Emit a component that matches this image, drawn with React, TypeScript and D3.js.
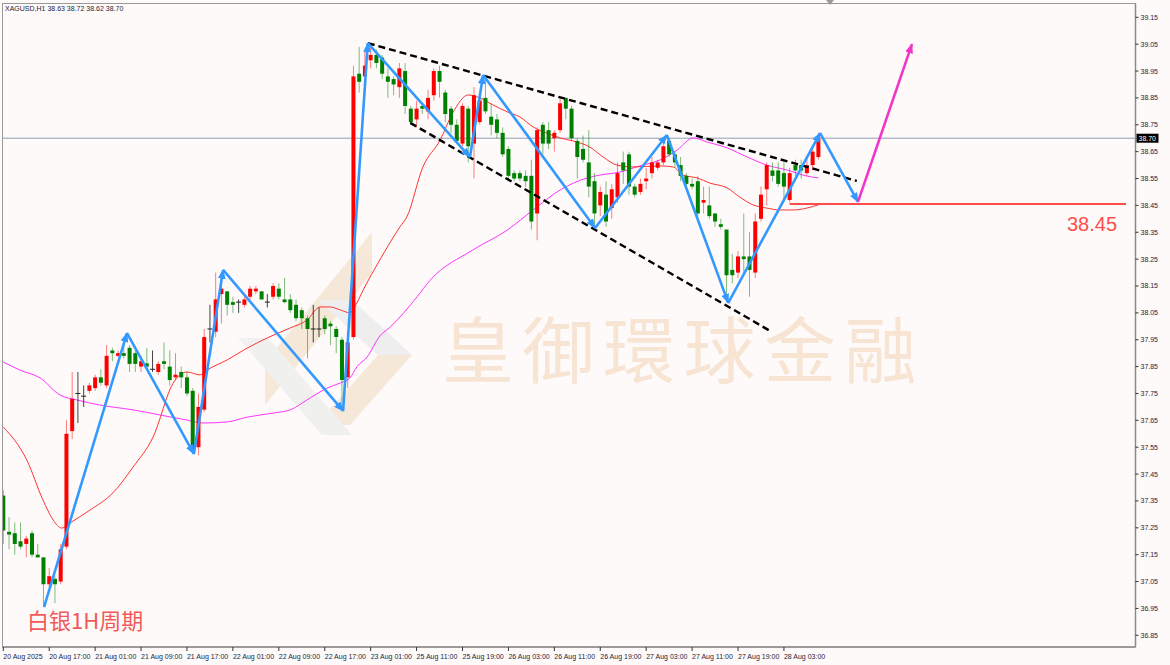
import React from "react";
import * as d3 from "d3";

const W = 1170;
const H = 665;

// ---- candle data (XAGUSD H1) ----
const opens = [37.37,37.235,37.23,37.20,37.19,37.23,37.15,37.14,37.04,37.06,37.05,37.18,37.61,37.75,37.74,37.76,37.77,37.81,37.78,37.91,37.89,37.90,37.92,37.90,37.85,37.862,37.84,37.83,37.87,37.85,37.81,37.83,37.81,37.76,37.55,37.69,37.99,37.98,38.12,38.13,38.09,38.09,38.08,38.11,38.13,38.13,38.09,38.11,38.14,38.10,38.10,38.08,38.06,38.03,37.99,37.99,38.03,38.01,37.99,37.95,37.81,37.96,38.94,38.93,38.99,39.01,39.00,38.93,38.92,38.89,38.95,38.81,38.77,38.82,38.80,38.86,38.95,38.87,38.81,38.75,38.68,38.81,38.68,38.76,38.85,38.78,38.77,38.72,38.66,38.57,38.57,38.56,38.56,38.42,38.75,38.73,38.70,38.73,38.85,38.81,38.69,38.66,38.61,38.54,38.45,38.49,38.44,38.48,38.61,38.64,38.52,38.50,38.54,38.57,38.59,38.61,38.69,38.64,38.60,38.56,38.53,38.54,38.46,38.45,38.42,38.38,38.36,38.21,38.20,38.26,38.26,38.20,38.40,38.51,38.58,38.58,38.57,38.47,38.60,38.60,38.57,38.60,38.63];
const highs = [37.39,37.29,37.27,37.27,37.22,37.24,37.19,37.14,37.10,37.07,37.19,37.65,37.83,37.83,37.78,37.79,37.82,37.84,37.93,37.92,37.91,37.96,37.93,37.91,37.89,37.92,37.91,37.87,37.94,37.91,37.90,37.85,37.83,37.77,37.75,37.99,38.08,38.20,38.20,38.13,38.11,38.10,38.11,38.15,38.15,38.13,38.12,38.16,38.16,38.18,38.12,38.10,38.07,38.04,38.08,38.07,38.04,38.02,38.00,37.96,37.96,38.97,39.04,39.03,39.05,39.03,39.01,38.96,38.93,38.98,38.98,38.82,38.84,38.83,38.88,38.96,38.97,38.88,38.82,38.77,38.83,38.82,38.89,38.87,38.92,38.83,38.79,38.74,38.67,38.58,38.58,38.58,38.62,38.74,38.76,38.76,38.73,38.85,38.85,38.82,38.70,38.71,38.73,38.57,38.52,38.54,38.53,38.61,38.65,38.65,38.53,38.55,38.59,38.63,38.62,38.70,38.70,38.65,38.63,38.57,38.55,38.56,38.52,38.52,38.42,38.40,38.36,38.27,38.28,38.42,38.35,38.42,38.52,38.61,38.61,38.61,38.61,38.59,38.62,38.62,38.63,38.66,38.72];
const lows = [37.19,37.17,37.15,37.17,37.14,37.14,37.14,36.96,37.03,36.97,37.04,37.17,37.58,37.64,37.70,37.75,37.76,37.78,37.77,37.87,37.885,37.88,37.83,37.83,37.83,37.84,37.83,37.82,37.84,37.78,37.80,37.77,37.74,37.53,37.52,37.68,37.94,37.96,38.01,38.04,38.05,38.05,38.07,38.10,38.12,38.10,38.07,38.10,38.10,38.085,38.05,38.02,37.99,37.88,37.94,37.96,37.97,37.93,37.90,37.69,37.77,37.95,38.87,38.90,38.96,38.96,38.92,38.85,38.86,38.85,38.79,38.75,38.74,38.79,38.77,38.84,38.85,38.76,38.72,38.68,38.67,38.61,38.55,38.75,38.79,38.71,38.70,38.63,38.54,38.54,38.54,38.52,38.36,38.32,38.64,38.66,38.65,38.72,38.77,38.69,38.55,38.61,38.48,38.38,38.41,38.37,38.40,38.46,38.53,38.49,38.48,38.49,38.51,38.55,38.58,38.60,38.63,38.59,38.54,38.52,38.51,38.41,38.42,38.40,38.37,38.36,38.09,38.16,38.18,38.19,38.11,38.18,38.39,38.45,38.54,38.52,38.47,38.46,38.56,38.55,38.56,38.58,38.62];
const closes = [37.24,37.225,37.19,37.18,37.21,37.15,37.14,37.04,37.07,37.04,37.17,37.60,37.73,37.75,37.74,37.78,37.81,37.79,37.89,37.90,37.90,37.89,37.86,37.86,37.87,37.85,37.84,37.86,37.86,37.80,37.82,37.81,37.75,37.54,37.70,37.96,37.99,38.10,38.14,38.08,38.08,38.09,38.10,38.14,38.14,38.10,38.09,38.15,38.11,38.09,38.06,38.03,38.03,37.99,37.99,37.99,37.99,38.00,37.96,37.80,37.94,38.93,38.91,38.97,39.01,38.98,38.94,38.91,38.90,38.96,38.82,38.76,38.81,38.81,38.85,38.95,38.91,38.79,38.75,38.69,38.82,38.67,38.86,38.84,38.80,38.75,38.72,38.64,38.56,38.55,38.55,38.54,38.39,38.73,38.68,38.68,38.72,38.83,38.81,38.70,38.63,38.62,38.52,38.42,38.50,38.39,38.51,38.57,38.58,38.52,38.49,38.53,38.55,38.61,38.61,38.67,38.64,38.61,38.56,38.53,38.52,38.42,38.47,38.41,38.39,38.37,38.19,38.19,38.26,38.25,38.21,38.39,38.49,38.60,38.56,38.53,38.52,38.57,38.58,38.58,38.60,38.65,38.70];

// ---- axis labels ----
const timeLabels = ["20 Aug 2025","20 Aug 17:00","21 Aug 01:00","21 Aug 09:00","21 Aug 17:00","22 Aug 01:00","22 Aug 09:00","22 Aug 17:00","23 Aug 01:00","25 Aug 11:00","25 Aug 19:00","26 Aug 03:00","26 Aug 11:00","26 Aug 19:00","27 Aug 03:00","27 Aug 11:00","27 Aug 19:00","28 Aug 03:00"];
const timeLabelBars = [0,8,16,24,32,40,48,56,64,72,80,88,96,104,112,120,128,136];
const priceTicks = [39.15,39.05,38.95,38.85,38.75,38.65,38.55,38.45,38.35,38.25,38.15,38.05,37.95,37.85,37.75,37.65,37.55,37.45,37.35,37.25,37.15,37.05,36.95,36.85];

// ---- moving averages ----
const maRedIdx = [0,4.1,6.9,8.7,10.2,11.6,15.1,19.1,22.6,26.1,29.6,32,34.3,35.5,39,42.5,46,50,52.9,55.2,56.9,58.7,60.4,61.6,62.7,65.6,69.1,70.3,73.1,76.1,78.3,81,83,85.3,87.8,90,92.3,94.7,97,99.2,102.2,104.5,106.9,109.7,114.4,116.7,118.4,120.9,123.1,126.1,128.3,130.6,133,135.3,137.6,140,142];
const maRedVal = [37.625,37.502,37.354,37.279,37.249,37.268,37.316,37.38,37.476,37.588,37.789,37.83,37.819,37.837,37.875,37.919,37.957,37.994,38.023,38.072,38.072,38.061,38.05,38.087,38.135,38.247,38.37,38.407,38.593,38.693,38.794,38.861,38.85,38.824,38.798,38.779,38.742,38.719,38.701,38.69,38.667,38.63,38.6,38.593,38.597,38.593,38.563,38.552,38.533,38.515,38.481,38.452,38.44,38.433,38.433,38.44,38.452];
const maMagIdx = [0,2.9,6.4,9.9,12.8,16.8,22.6,27.3,32,34.8,39,42.5,47,50,52.9,56.4,58.7,60.4,61.6,63.4,65.6,67.4,72.1,74.3,81.8,87.8,92.3,97,101.7,104,107.4,110.9,114.4,117.4,120.2,122.6,126.1,129.6,133,136.5,140,142];
const maMagVal = [37.867,37.837,37.808,37.744,37.726,37.707,37.689,37.67,37.651,37.64,37.644,37.662,37.677,37.689,37.726,37.77,37.789,37.808,37.849,37.886,37.964,37.997,38.11,38.17,38.284,38.358,38.433,38.507,38.552,38.563,38.574,38.597,38.619,38.656,38.701,38.686,38.664,38.63,38.6,38.582,38.559,38.552];

// ---- drawn analysis ----
const zigIdx = [7.1,21.55,33.2,38.3,59.2,63.5,81.3,83.6,103.1,115.6,126.3,142.3,148.9];
const zigVal = [36.955,37.975,37.525,38.21,37.685,39.054,38.63,38.935,38.366,38.712,38.087,38.719,38.463];
const upperIdx = [63.5,148.7];
const upperVal = [39.054,38.541];
const lowerIdx = [70.9,133.9];
const lowerVal = [38.757,37.979];
const targetIdx = [148.9,158.3];
const targetVal = [38.463,39.05];
const supportIdx = [137,195.6];
const supportLevel = 38.455;
const supportLabel = "38.45";
const lastPrice = 38.70;
const headerText = "XAGUSD,H1  38.63 38.72 38.62 38.70";
const titleText = "白银1H周期";
const watermarkText = "皇御環球金融";

const FONT = "'Liberation Sans', Arial, sans-serif";

export default function App() {
  const x = d3.scaleLinear().domain([0, 142]).range([3.3, 818.38]);
  const y = d3.scaleLinear().domain([36.85, 39.15]).range([635.3, 17.3]);
  const plotL = 2.5, plotT = 3.5, plotR = 1135.5, plotB = 647;
  const bw = 4;
  const redC = "#ff0000";
  const greenC = "#008000";

  const lineGen = d3
    .line<[number, number]>()
    .x((d) => x(d[0]))
    .y((d) => y(d[1]))
    .curve(d3.curveMonotoneX);

  const redPts = maRedIdx.map((v, i) => [v, maRedVal[i]] as [number, number]);
  const magPts = maMagIdx.map((v, i) => [v, maMagVal[i]] as [number, number]);

  const candles = opens.map((o, i) => {
    const c = closes[i];
    const h = highs[i];
    const l = lows[i];
    const cx = x(i);
    const doji = Math.abs(c - o) < 0.0005;
    const up = c > o;
    const col = doji ? "#222" : up ? redC : greenC;
    const top = y(Math.max(o, c));
    const bot = y(Math.min(o, c));
    return (
      <g key={i}>
        <line x1={cx} x2={cx} y1={y(h)} y2={y(l)} stroke={col} strokeOpacity={doji ? 0.85 : 0.5} strokeWidth={1} />
        {doji ? (
          <line x1={cx - 2.5} x2={cx + 2.5} y1={top} y2={top} stroke={col} strokeWidth={1} />
        ) : (
          <rect x={cx - bw / 2} y={top} width={bw} height={Math.max(1, bot - top)} fill={col} />
        )}
      </g>
    );
  });

  const zigSegs = zigIdx.slice(1).map((v, i) => (
    <line
      key={i}
      x1={x(zigIdx[i])}
      y1={y(zigVal[i])}
      x2={x(v)}
      y2={y(zigVal[i + 1])}
      stroke="#3399ff"
      strokeWidth={2.6}
      markerEnd="url(#arrBlue)"
    />
  ));

  return (
    <svg
      width={W}
      height={H}
      style={{ position: "absolute", left: 0, top: 0, background: "#fdfaf9" }}
      fontFamily={FONT}
    >
      <defs>
        <clipPath id="plot">
          <rect x={plotL} y={plotT} width={plotR - plotL} height={plotB - plotT} />
        </clipPath>
        <marker id="arrBlue" markerUnits="userSpaceOnUse" markerWidth={10} markerHeight={8} refX={9} refY={4} orient="auto">
          <path d="M0,0 L10,4 L0,8 z" fill="#3399ff" />
        </marker>
        <marker id="arrPink" markerUnits="userSpaceOnUse" markerWidth={10} markerHeight={8} refX={9} refY={4} orient="auto">
          <path d="M0,0 L10,4 L0,8 z" fill="#f035c8" />
        </marker>
      </defs>
      <rect x={0} y={0} width={W} height={H} fill="#fdfaf9" />

      <g clipPath="url(#plot)">
        {/* watermark logo */}
        <g opacity={0.9}>
          <polygon points="265,362 372,232 372,273 265,405" fill="#f6e7d6" />
          <polygon points="318,300 352,300 412,355 378,355" fill="#ededed" />
          <polygon points="378,355 412,355 350,425 316,425" fill="#f6e7d6" />
          <polygon points="238,338 268,338 352,435 322,435" fill="#efefef" />
        </g>
        <text
          x={442}
          y={377}
          fontFamily="'Noto Sans CJK TC', 'Noto Sans CJK SC', sans-serif"
          fontSize={72}
          letterSpacing={8.5}
          fill="#f7e4d3"
        >
          {watermarkText}
        </text>

        {/* current price line */}
        <line x1={plotL} x2={plotR} y1={y(lastPrice)} y2={y(lastPrice)} stroke="#8e9db3" strokeWidth={1} />

        {/* moving averages */}
        <path d={lineGen(magPts) || ""} fill="none" stroke="#ff33ff" strokeWidth={1} />
        <path d={lineGen(redPts) || ""} fill="none" stroke="#ff3333" strokeWidth={1} />

        {candles}

        {/* trend lines */}
        <line x1={x(upperIdx[0])} y1={y(upperVal[0])} x2={x(upperIdx[1])} y2={y(upperVal[1])} stroke="#000" strokeWidth={2.4} strokeDasharray="7 4" />
        <line x1={x(lowerIdx[0])} y1={y(lowerVal[0])} x2={x(lowerIdx[1])} y2={y(lowerVal[1])} stroke="#000" strokeWidth={2.4} strokeDasharray="7 4" />

        {/* support */}
        <line x1={x(supportIdx[0])} x2={x(supportIdx[1])} y1={y(supportLevel)} y2={y(supportLevel)} stroke="#ff4d4d" strokeWidth={2} />

        {zigSegs}
        <line x1={x(targetIdx[0])} y1={y(targetVal[0])} x2={x(targetIdx[1])} y2={y(targetVal[1])} stroke="#f035c8" strokeWidth={2.6} markerEnd="url(#arrPink)" />

        <text x={1067} y={y(supportLevel) + 27} fontSize={20} fill="#ff4d4d" fontFamily={FONT}>
          {supportLabel}
        </text>
        <text x={27} y={629} fontSize={22} fill="#f25a5a" fontFamily="'Noto Sans CJK SC', sans-serif">
          {titleText}
        </text>
      </g>

      {/* frame */}
      <rect x={plotL} y={plotT} width={plotR - plotL} height={plotB - plotT} fill="none" stroke="#9a9a9a" strokeWidth={1} />
      <line x1={plotR} x2={plotR} y1={plotT} y2={plotB} stroke="#8a8a8a" strokeWidth={1.5} />
      <line x1={plotL} x2={plotR} y1={plotB} y2={plotB} stroke="#8a8a8a" strokeWidth={1.5} />
      <polygon points="826,0 834,0 830,5" fill="#999" />

      {/* header */}
      <text x={5} y={11} fontSize={7} fill="#1d2440">
        {headerText}
      </text>

      {/* price axis */}
      {priceTicks.map((p) => (
        <g key={p}>
          <line x1={plotR} x2={plotR + 3} y1={y(p)} y2={y(p)} stroke="#333" />
          <text x={plotR + 5} y={y(p) + 2.5} fontSize={7} fill="#1d2440">
            {p.toFixed(2)}
          </text>
        </g>
      ))}
      <rect x={plotR + 1} y={y(lastPrice) - 4.5} width={22} height={9} fill="#000" />
      <text x={plotR + 3} y={y(lastPrice) + 2.5} fontSize={7} fill="#fff">
        {lastPrice.toFixed(2)}
      </text>

      {/* time axis */}
      {timeLabelBars.map((b, i) => (
        <g key={b}>
          <line x1={x(b)} x2={x(b)} y1={plotB} y2={plotB + 4} stroke="#333" />
          <text x={x(b)} y={659} fontSize={7} fill="#1d2440">
            {timeLabels[i]}
          </text>
        </g>
      ))}
    </svg>
  );
}
